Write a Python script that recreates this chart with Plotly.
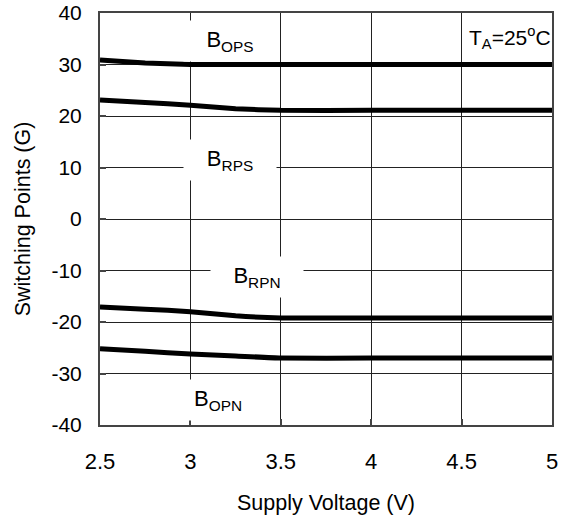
import plotly.graph_objects as go

voltage = [2.5, 2.75, 3.0, 3.25, 3.5, 4.0, 4.5, 5.0]
b_ops = [30.9, 30.3, 30.0, 30.0, 30.0, 30.0, 30.0, 30.0]
b_rps = [23.1, 22.6, 22.1, 21.4, 21.1, 21.1, 21.1, 21.1]
b_rpn = [-17.1, -17.5, -18.0, -18.8, -19.2, -19.2, -19.2, -19.2]
b_opn = [-25.2, -25.7, -26.2, -26.6, -27.0, -27.0, -27.0, -27.0]

x_ticks = [2.5, 3, 3.5, 4, 4.5, 5]
x_tick_text = ["2.5", "3", "3.5", "4", "4.5", "5"]
y_ticks = [-40, -30, -20, -10, 0, 10, 20, 30, 40]
y_tick_text = ["-40", "-30", "-20", "-10", "0", "10", "20", "30", "40"]

labels = [
    ("B<sub>OPS</sub>", 3.22, 34.6),
    ("B<sub>RPS</sub>", 3.22, 11.5),
    ("B<sub>RPN</sub>", 3.37, -11.3),
    ("B<sub>OPN</sub>", 3.15, -35.1),
]

FONT = "Liberation Sans, Arial, sans-serif"

fig = go.Figure()
for ys in (b_ops, b_rps, b_rpn, b_opn):
    fig.add_trace(go.Scatter(
        x=voltage, y=ys, mode="lines",
        line=dict(color="black", width=5, shape="spline", smoothing=0.4),
        showlegend=False, hoverinfo="skip",
    ))

for text, x, y in labels:
    fig.add_annotation(
        x=x, y=y, text=text, showarrow=False,
        font=dict(family=FONT, size=22, color="black"),
        bgcolor="white", width=90, height=38,
        xanchor="center", yanchor="middle",
    )

fig.add_annotation(
    x=4.77, y=35.2, text="T<sub>A</sub>=25<sup>o</sup>C", showarrow=False,
    font=dict(family=FONT, size=21, color="black"),
    xanchor="center", yanchor="middle",
)

fig.update_layout(
    width=569, height=522,
    margin=dict(l=100, r=17, t=13, b=97),
    paper_bgcolor="white", plot_bgcolor="white",
    font=dict(family=FONT, size=18, color="black"),
)
fig.update_xaxes(
    range=[2.5, 5], tickvals=x_ticks, ticktext=x_tick_text,
    showgrid=True, gridcolor="#222", gridwidth=1,
    showline=True, linecolor="#444", linewidth=2, mirror=True,
    ticks="inside", ticklen=6, tickcolor="#444", tickwidth=2,
    zeroline=False, ticklabelstandoff=16, automargin=False,
    tickfont=dict(family=FONT, size=22),
    title=dict(text="Supply Voltage (V)", font=dict(family=FONT, size=21.5), standoff=22),
)
fig.update_yaxes(
    range=[-40, 40], tickvals=y_ticks, ticktext=y_tick_text,
    showgrid=True, gridcolor="#222", gridwidth=1,
    showline=True, linecolor="#444", linewidth=2, mirror=True,
    ticks="inside", ticklen=6, tickcolor="#444", tickwidth=2,
    zeroline=False, ticklabelstandoff=12, automargin=False,
    tickfont=dict(family=FONT, size=21),
    title=dict(text="Switching Points (G)", font=dict(family=FONT, size=21.5), standoff=15),
)

# remove the browser's default 8px body margin so the figure sits at the window's corner
fig.write_html(
    "out.html",
    config={"displayModeBar": False},
    post_script="document.body.style.margin='0';",
)
